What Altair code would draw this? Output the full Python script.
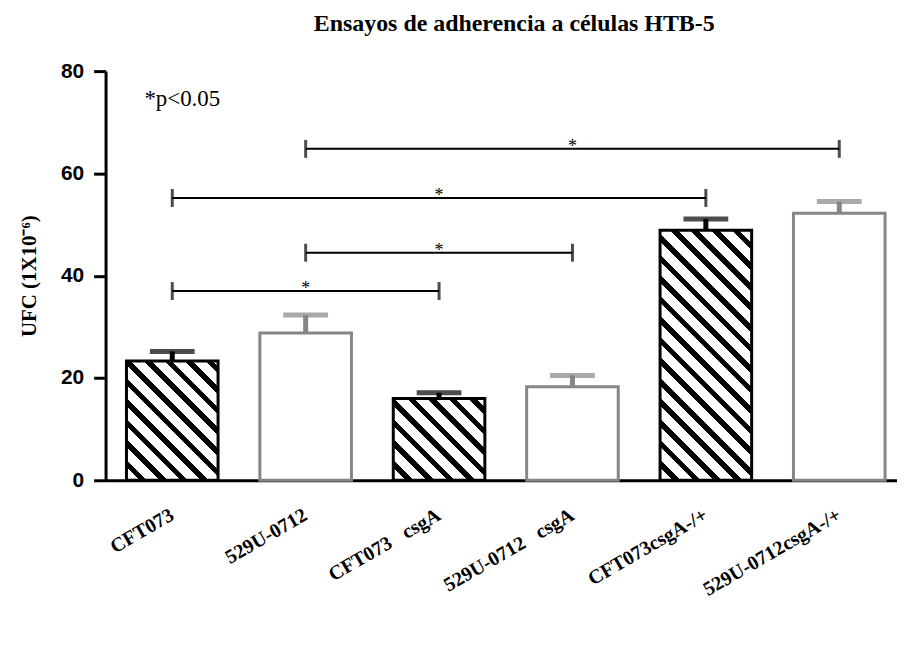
import math
import altair as alt
import pandas as pd

# ---------------- data ----------------
NB = "\u00a0"
categories = ["CFT073", "529U-0712", "CFT073" + NB * 3 + "csgA", "529U-0712" + NB * 3 + "csgA",
              "CFT073csgA-/+", "529U-0712csgA-/+"]
means = [23.3, 28.8, 16.0, 18.3, 48.9, 52.2]
upper = [25.2, 32.3, 17.1, 20.5, 51.1, 54.5]
kinds = ["hatched", "open", "hatched", "open", "hatched", "open"]

br_left = [categories[1], categories[0], categories[1], categories[0]]
br_right = [categories[5], categories[4], categories[3], categories[2]]
br_mid = [categories[3], categories[2], categories[2], categories[1]]
br_y = [64.8, 55.2, 44.5, 37.0]
br_label = ["*", "*", "*", "*"]

note_text = ["*p<0.05"]
note_cat = [categories[0]]
note_y = [73.2]

title_text = "Ensayos de adherencia a células HTB-5"
y_title = "UFC (1X10\u207b\u2076)"

# ---------------- layout / style ----------------
W, H = 795, 411
YMAX = 80
STEP = 134.0
PI = 42.0 / STEP
PO = (W / STEP - (len(categories) - PI)) / 2
ALIGN = 21.0 / (W - STEP * (len(categories) - PI))
BANDW = STEP * (1 - PI)
GRAY = "#868686"
SERIF = "Liberation Serif"
SANS = "Liberation Sans"

df = pd.DataFrame({"cat": categories, "value": means, "upper": upper, "kind": kinds})
br_df = pd.DataFrame({"left": br_left, "right": br_right, "mid": br_mid,
                      "y": br_y, "label": br_label})
ends_df = pd.DataFrame({"cat": br_left + br_right, "y": br_y + br_y})
note_df = pd.DataFrame({"cat": note_cat, "y": note_y, "text": note_text})

x_scale = alt.Scale(domain=categories, paddingInner=PI, paddingOuter=PO, align=ALIGN)
x_axis = alt.Axis(labelAngle=-30, labelAlign="right", labelBaseline="middle",
                  labelFont=SERIF, labelFontSize=20, labelFontWeight="bold",
                  labelColor="black", labelPadding=33, ticks=False,
                  domainColor="black", domainWidth=3, labelLimit=400)
y_scale = alt.Scale(domain=[0, YMAX], nice=False)
y_axis = alt.Axis(values=[0, 20, 40, 60, 80], tickSize=12, tickWidth=3,
                  tickColor="black", domainColor="black", domainWidth=3,
                  labelFont=SANS, labelFontSize=21, labelFontWeight="bold",
                  labelColor="black", labelPadding=10, grid=False,
                  titleFont=SERIF, titleFontSize=21, titleFontWeight="bold",
                  titleColor="black", titlePadding=21)


def X(field):
    return alt.X(f"{field}:N", sort=categories, scale=x_scale, axis=x_axis, title=None)


def Y(field):
    return alt.Y(f"{field}:Q", scale=y_scale, axis=y_axis, title=y_title)


color = alt.Color("kind:N", scale=alt.Scale(domain=["hatched", "open"],
                                            range=["black", GRAY]), legend=None)


def hatch(value, period=14.6, frac=0.37):
    w = BANDW
    h = value / YMAX * H
    a = w * (w + h) / (w * w + h * h)
    span = (w + h) / math.sqrt(2)
    p = period / span
    stops = [{"offset": 0, "color": "white"}]
    k = 0
    while True:
        b0 = k * p + (1 - frac) * p
        if b0 >= 1:
            break
        b1 = min((k + 1) * p, 1)
        stops += [{"offset": round(b0, 5), "color": "white"},
                  {"offset": round(b0, 5), "color": "black"},
                  {"offset": round(b1, 5), "color": "black"},
                  {"offset": round(b1, 5), "color": "white"}]
        k += 1
    return {"gradient": "linear", "x1": 0, "y1": 1, "x2": round(a, 5),
            "y2": round(1 - a * h / w, 5), "stops": stops}


layers = []
layers.append(
    alt.Chart(df[df.kind == "open"]).mark_bar(fill="white", stroke=GRAY, strokeWidth=3)
    .encode(x=X("cat"), y=Y("value"))
)
for c, v, k in zip(categories, means, kinds):
    if k != "hatched":
        continue
    layers.append(
        alt.Chart(df[df.cat == c]).mark_bar(fill=hatch(v), stroke="black", strokeWidth=3)
        .encode(x=X("cat"), y=Y("value"))
    )
layers.append(
    alt.Chart(df).mark_rule(strokeWidth=5)
    .encode(x=X("cat"), y=Y("value"), y2="upper:Q", color=color)
)
layers.append(
    alt.Chart(df).mark_tick(size=45, thickness=5)
    .encode(x=X("cat"), y=Y("upper"), color=color)
)
layers.append(
    alt.Chart(br_df).mark_rule(strokeWidth=2, color="black")
    .encode(x=X("left"), x2="right:N", y=Y("y"))
)
layers.append(
    alt.Chart(ends_df).mark_tick(orient="vertical", size=18, thickness=3, color="black")
    .encode(x=X("cat"), y=Y("y"))
)
layers.append(
    alt.Chart(br_df).mark_text(font=SERIF, fontSize=18, baseline="alphabetic",
                               dy=3, color="black")
    .encode(x=X("mid"), y=Y("y"), text="label:N")
)
layers.append(
    alt.Chart(note_df).mark_text(font=SERIF, fontSize=23, align="left",
                                 baseline="alphabetic", dx=-28, color="black")
    .encode(x=X("cat"), y=Y("y"), text="text:N")
)

chart = alt.layer(*layers).properties(
    width=W, height=H,
    title=alt.TitleParams(title_text, font=SERIF, fontSize=24, fontWeight="bold",
                          color="black", anchor="middle", frame="group",
                          offset=24, dx=13),
    autosize=alt.AutoSizeParams(type="none"),
    padding={"left": 98, "top": 62, "right": 0, "bottom": 150},
).configure_view(stroke=None)

chart.save("out.html", embed_options={"renderer": "svg", "actions": False})
